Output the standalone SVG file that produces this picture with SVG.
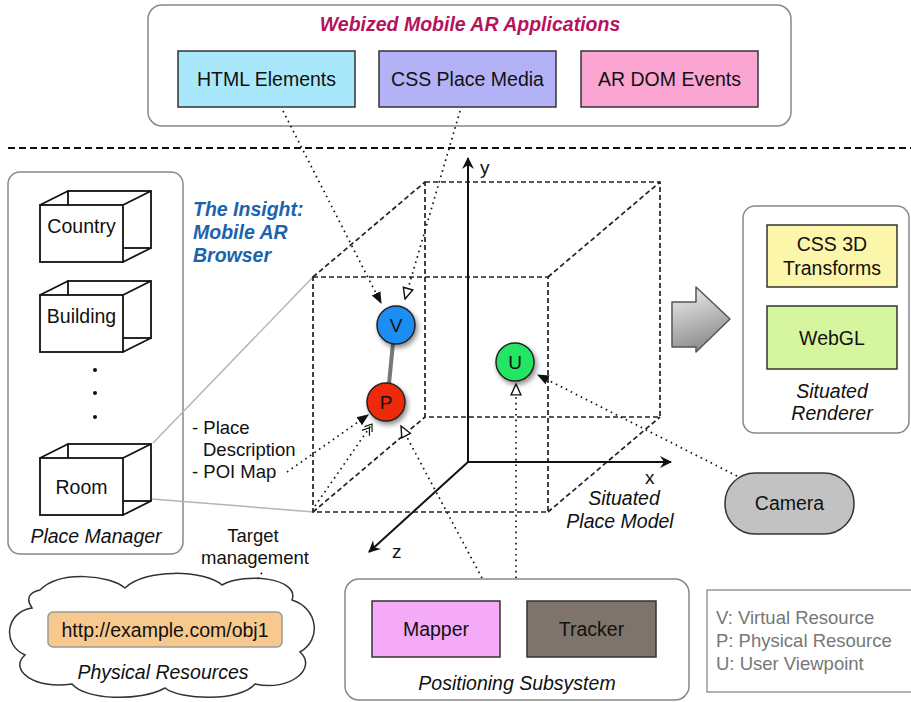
<svg xmlns="http://www.w3.org/2000/svg" width="911" height="702" viewBox="0 0 911 702">
  <style>
    .t { font-family: "Liberation Sans", Arial, sans-serif; fill: #111; }
    .lbl { font-size: 19.5px; text-anchor: middle; }
    .cap { font-size: 19.5px; font-style: italic; text-anchor: middle; }
    .panel { fill: #fff; stroke: #888; stroke-width: 1.5; }
    .box { stroke: #333; stroke-width: 1.5; }
    .cube { fill: #fff; stroke: #111; stroke-width: 1.8; }
    .wire { fill: none; stroke: #222; stroke-width: 1.7; stroke-dasharray: 5 3; }
    .dot { fill: none; stroke: #111; stroke-width: 1.7; stroke-dasharray: 1.6 4; }
    .axis { fill: none; stroke: #111; stroke-width: 2; }
    .gray { fill: none; stroke: #b5b5b5; stroke-width: 1.5; }
    .node { stroke: #222; stroke-width: 1.5; }
    .legend { font-size: 18.5px; fill: #777; }
  </style>
  <defs>
    <marker id="solid" viewBox="0 0 10 10" refX="9" refY="5" markerWidth="12" markerHeight="12" orient="auto" markerUnits="userSpaceOnUse">
      <path d="M0,1 L10,5 L0,9 Z" fill="#111"/>
    </marker>
    <marker id="hollow" viewBox="0 0 12 12" refX="11" refY="6" markerWidth="13" markerHeight="13" orient="auto" markerUnits="userSpaceOnUse">
      <path d="M1,1.5 L11,6 L1,10.5 Z" fill="#fff" stroke="#111" stroke-width="1.3"/>
    </marker>
    <marker id="chevron" viewBox="0 0 14 12" refX="13" refY="6" markerWidth="13" markerHeight="11" orient="auto" markerUnits="userSpaceOnUse">
      <path d="M1,1 L8,6 L1,11 M6,1 L13,6 L6,11" fill="none" stroke="#111" stroke-width="1.3"/>
    </marker>
    <marker id="axisHead" viewBox="0 0 12 12" refX="11" refY="6" markerWidth="12" markerHeight="12" orient="auto" markerUnits="userSpaceOnUse">
      <path d="M0,0 L12,6 L0,12 L4,6 Z" fill="#111"/>
    </marker>
    <linearGradient id="arrowFill" x1="0" y1="0" x2="0.3" y2="1">
      <stop offset="0" stop-color="#f2f2f2"/>
      <stop offset="1" stop-color="#8e8e8e"/>
    </linearGradient>
    <filter id="shadow" x="-40%" y="-40%" width="190%" height="190%">
      <feDropShadow dx="2" dy="3" stdDeviation="2.5" flood-color="#000" flood-opacity="0.45"/>
    </filter>
  </defs>

  <!-- application layer -->
  <g id="apps">
    <rect class="panel" x="148" y="5" width="643" height="121" rx="14"/>
    <text class="t" x="470" y="31" font-size="19.5" font-weight="bold" font-style="italic" text-anchor="middle" style="fill:#b5135c">Webized Mobile AR Applications</text>
  </g>
  <g id="html-elements">
    <rect class="box" x="178" y="51" width="177" height="56" fill="#a9e8fb"/>
    <text class="t lbl" x="266.5" y="86">HTML Elements</text>
  </g>
  <g id="css-place-media">
    <rect class="box" x="379" y="51" width="177" height="56" fill="#b4b2f6"/>
    <text class="t lbl" x="467.5" y="86">CSS Place Media</text>
  </g>
  <g id="ar-dom-events">
    <rect class="box" x="581" y="51" width="177" height="56" fill="#fba6d2"/>
    <text class="t lbl" x="669.5" y="86">AR DOM Events</text>
  </g>

  <!-- layer separator -->
  <line x1="8" y1="148" x2="911" y2="148" stroke="#111" stroke-width="2" stroke-dasharray="7 4"/>

  <!-- place manager -->
  <g id="place-manager">
    <rect class="panel" x="8" y="172" width="175" height="382" rx="12"/>
    <text class="t cap" x="96" y="543">Place Manager</text>
    <g id="country">
      <rect class="cube" x="68" y="191" width="83" height="57"/>
      <path class="cube" d="M40,205 L68,191 M123,205 L151,191 M123,262 L151,248"/>
      <rect class="cube" x="40" y="205" width="83" height="57"/>
      <text class="t lbl" x="81.5" y="233">Country</text>
    </g>
    <g id="building">
      <rect class="cube" x="68" y="281" width="83" height="57"/>
      <path class="cube" d="M40,295 L68,281 M123,295 L151,281 M123,352 L151,338"/>
      <rect class="cube" x="40" y="295" width="83" height="57"/>
      <text class="t lbl" x="81.5" y="323">Building</text>
    </g>
    <g fill="#111">
      <circle cx="95" cy="370" r="2"/>
      <circle cx="95" cy="393" r="2"/>
      <circle cx="95" cy="417" r="2"/>
    </g>
    <g id="room">
      <rect class="cube" x="68" y="444" width="83" height="57"/>
      <path class="cube" d="M40,458 L68,444 M123,458 L151,444 M123,515 L151,501"/>
      <rect class="cube" x="40" y="458" width="83" height="57"/>
      <text class="t lbl" x="81.5" y="494">Room</text>
    </g>
  </g>

  <g id="browser-title" font-family="Liberation Sans, Arial, sans-serif" font-size="19.5" font-weight="bold" font-style="italic" fill="#1b64ad">
    <text x="193" y="216">The Insight:</text>
    <text x="193" y="239">Mobile AR</text>
    <text x="193" y="262">Browser</text>
  </g>

  <!-- Room projects onto the place model -->
  <g id="room-projection">
    <line class="gray" x1="153" y1="443" x2="314" y2="276"/>
    <line class="gray" x1="152" y1="499" x2="314" y2="512"/>
  </g>

  <!-- situated place model -->
  <g id="place-model">
    <rect class="wire" x="425" y="182" width="235" height="235"/>
    <path class="wire" d="M313,277 L425,182 M548,277 L660,182 M548,512 L660,417 M313,512 L425,417"/>
    <rect class="wire" x="313" y="277" width="235" height="235"/>
    <line class="axis" x1="468" y1="462" x2="468" y2="158" marker-end="url(#axisHead)"/>
    <line class="axis" x1="468" y1="462" x2="671" y2="462" marker-end="url(#axisHead)"/>
    <line class="axis" x1="468" y1="462" x2="369" y2="552" marker-end="url(#axisHead)"/>
    <text class="t" x="480" y="174" font-size="19">y</text>
    <text class="t" x="645" y="484" font-size="19">x</text>
    <text class="t" x="392" y="558" font-size="19">z</text>
    <text class="t cap" x="624" y="505">Situated</text>
    <text class="t cap" x="620" y="528">Place Model</text>
  </g>

  <g id="place-description" class="t" font-size="18.5">
    <text x="192" y="434">- Place</text>
    <text x="203" y="456">Description</text>
    <text x="192" y="478">- POI Map</text>
  </g>

  <g id="target-management" class="t" font-size="18.5" text-anchor="middle">
    <text x="253" y="542">Target</text>
    <text x="255" y="564">management</text>
  </g>

  <!-- connectors -->
  <g id="connectors">
    <line class="dot" x1="283" y1="111" x2="381" y2="303" marker-end="url(#solid)"/>
    <line class="dot" x1="460" y1="111" x2="405" y2="299" marker-end="url(#hollow)"/>
    <line class="dot" x1="287" y1="472" x2="368" y2="415" marker-end="url(#solid)"/>
    <line class="dot" x1="315" y1="506" x2="372" y2="424" marker-end="url(#chevron)"/>
    <line class="dot" x1="482" y1="578" x2="401" y2="426" marker-end="url(#hollow)"/>
    <line class="dot" x1="516" y1="578" x2="516" y2="384" marker-end="url(#hollow)"/>
    <line class="dot" x1="737" y1="476" x2="538" y2="375" marker-end="url(#solid)"/>
    <line class="dot" x1="237" y1="612" x2="263" y2="571"/>
    <line x1="393" y1="343" x2="389" y2="384" stroke="#777" stroke-width="4"/>
  </g>

  <!-- resources in the model -->
  <g id="node-v">
    <circle class="node" cx="396" cy="325" r="19" fill="#1c8df2" filter="url(#shadow)"/>
    <text class="t" x="396" y="332" font-size="19" text-anchor="middle">V</text>
  </g>
  <g id="node-p">
    <circle class="node" cx="386" cy="402" r="19" fill="#ee2a0e" filter="url(#shadow)"/>
    <text class="t" x="386" y="409" font-size="19" text-anchor="middle">P</text>
  </g>
  <g id="node-u">
    <circle class="node" cx="515" cy="362" r="19" fill="#24e564" filter="url(#shadow)"/>
    <text class="t" x="515" y="369" font-size="19" text-anchor="middle">U</text>
  </g>

  <!-- rendering -->
  <g id="render-arrow">
    <path d="M672,302 L696,302 L696,287 L730,319 L696,352 L696,347 L672,347 Z" fill="url(#arrowFill)" stroke="#555" stroke-width="1.5" stroke-linejoin="round"/>
  </g>
  <g id="situated-renderer">
    <rect class="panel" x="743" y="206" width="166" height="227" rx="12"/>
    <text class="t cap" x="832" y="398">Situated</text>
    <text class="t cap" x="832" y="420">Renderer</text>
  </g>
  <g id="css-3d-transforms">
    <rect class="box" x="767" y="225" width="130" height="62" fill="#fbf6a9"/>
    <text class="t lbl" x="832" y="251">CSS 3D</text>
    <text class="t lbl" x="832" y="275">Transforms</text>
  </g>
  <g id="webgl">
    <rect class="box" x="767" y="306" width="130" height="63" fill="#d6f59f"/>
    <text class="t lbl" x="832" y="345">WebGL</text>
  </g>

  <g id="camera">
    <rect class="box" x="725" y="473" width="129" height="61" rx="30" fill="#c2c2c2"/>
    <text class="t lbl" x="789.5" y="510">Camera</text>
  </g>

  <!-- physical resources -->
  <g id="physical-resources">
    <path d="M40,590 C60,570 110,575 125,588 C145,568 205,570 222,585 C245,572 300,578 292,600 C318,608 322,640 300,652 C318,668 290,692 255,684 C240,702 180,700 165,688 C140,702 85,700 72,684 C35,690 8,670 25,655 C2,645 5,612 32,608 C25,598 30,592 40,590 Z" fill="#fff" stroke="#333" stroke-width="1.5"/>
    <rect x="48" y="612" width="234" height="35" rx="5" fill="#f7c98f" stroke="#999" stroke-width="1.5"/>
    <text class="t lbl" x="165" y="637">http://example.com/obj1</text>
    <text class="t cap" x="163" y="679">Physical Resources</text>
  </g>

  <!-- positioning -->
  <g id="positioning-subsystem">
    <rect class="panel" x="345" y="579" width="344" height="121" rx="14"/>
    <text class="t cap" x="517" y="690">Positioning Subsystem</text>
  </g>
  <g id="mapper">
    <rect class="box" x="372" y="601" width="128" height="56" fill="#f5aaf7"/>
    <text class="t lbl" x="436" y="636">Mapper</text>
  </g>
  <g id="tracker">
    <rect class="box" x="527" y="601" width="129" height="56" fill="#7e746b"/>
    <text class="t lbl" x="591.5" y="636">Tracker</text>
  </g>

  <g id="legend">
    <rect x="707" y="590" width="210" height="102" fill="#fff" stroke="#999" stroke-width="1.5"/>
    <text class="t legend" x="716" y="624" style="fill:#777">V: Virtual Resource</text>
    <text class="t legend" x="716" y="647" style="fill:#777">P: Physical Resource</text>
    <text class="t legend" x="716" y="670" style="fill:#777">U: User Viewpoint</text>
  </g>
</svg>
